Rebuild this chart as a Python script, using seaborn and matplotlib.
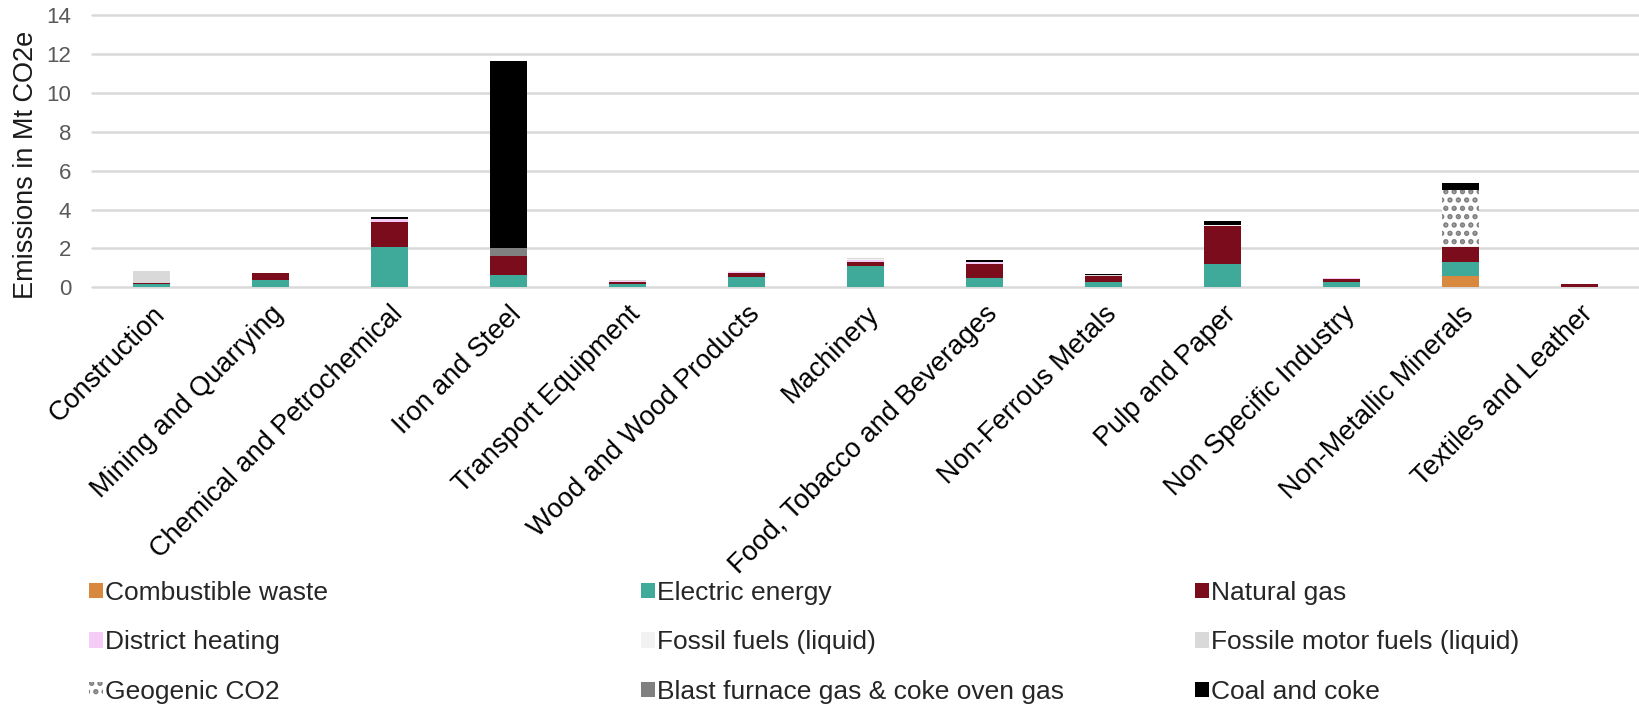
import numpy as np
import pandas as pd
import matplotlib
matplotlib.use("Agg")
import matplotlib.pyplot as plt
import seaborn as sns
from matplotlib.patches import Patch

categories = [
    "Construction", "Mining and Quarrying", "Chemical and Petrochemical",
    "Iron and Steel", "Transport Equipment", "Wood and Wood Products",
    "Machinery", "Food, Tobacco and Beverages", "Non-Ferrous Metals",
    "Pulp and Paper", "Non Specific Industry", "Non-Metallic Minerals",
    "Textiles and Leather",
]

combustible_waste = [0, 0, 0, 0, 0, 0, 0, 0, 0, 0, 0, 0.60, 0]
electric_energy = [0.17, 0.37, 2.09, 0.62, 0.15, 0.55, 1.10, 0.50, 0.29, 1.21, 0.29, 0.69, 0.03]
natural_gas = [0.05, 0.35, 1.29, 1.01, 0.14, 0.17, 0.19, 0.71, 0.27, 1.94, 0.14, 0.80, 0.14]
district_heating = [0, 0.02, 0.13, 0, 0.03, 0.08, 0.13, 0.07, 0.02, 0.02, 0.03, 0, 0]
fossil_fuels_liquid = [0.02, 0, 0.02, 0, 0.02, 0.03, 0.03, 0.02, 0.02, 0.05, 0.04, 0.02, 0.02]
fossile_motor_fuels = [0.58, 0.01, 0, 0, 0.01, 0.02, 0.06, 0.02, 0.01, 0.01, 0, 0, 0]
geogenic_co2 = [0, 0, 0, 0, 0, 0, 0, 0, 0, 0, 0, 2.91, 0]
blast_furnace_gas = [0, 0, 0, 0.37, 0, 0, 0, 0, 0, 0, 0, 0, 0]
coal_and_coke = [0, 0, 0.07, 9.65, 0, 0, 0, 0.07, 0.07, 0.20, 0, 0.33, 0]

series_names = [
    "Combustible waste", "Electric energy", "Natural gas",
    "District heating", "Fossil fuels (liquid)", "Fossile motor fuels (liquid)",
    "Geogenic CO2", "Blast furnace gas & coke oven gas", "Coal and coke",
]
series_colors = ["#D9883F", "#40AA9A", "#7B0C1C", "#F4CCF6", "#F2F2F2",
                 "#D9D9D9", "#FFFFFF", "#808080", "#000000"]
series_hatch = [None, None, None, None, None, None, "..", None, None]
hatch_color = "#7F7F7F"

y_ticks = [0, 2, 4, 6, 8, 10, 12, 14]

sns.set_theme(style="white")
plt.rcParams['font.family'] = ['Liberation Sans', 'DejaVu Sans']
plt.rcParams['hatch.linewidth'] = 2.6

fig = plt.figure(figsize=(16.4, 7.05), dpi=100)
ax = fig.add_axes([0.0561, 0.5925, 0.9435, 0.3858])

layers = np.array([combustible_waste, electric_energy, natural_gas, district_heating,
                   fossil_fuels_liquid, fossile_motor_fuels, geogenic_co2,
                   blast_furnace_gas, coal_and_coke])
cum = np.cumsum(layers, axis=0)

for i in reversed(range(len(layers))):
    df = pd.DataFrame({"sector": categories, "value": cum[i]})
    kw = dict(linewidth=0)
    if series_hatch[i]:
        kw["hatch"] = series_hatch[i]
        kw["edgecolor"] = hatch_color
    else:
        kw["edgecolor"] = series_colors[i]
    sns.barplot(data=df, x="sector", y="value", order=categories,
                color=series_colors[i], saturation=1, width=0.31,
                errorbar=None, ax=ax, **kw)

ax.set_xlim(-0.5, len(categories) - 0.5)
ax.set_ylim(0, 14)
ax.set_yticks(y_ticks)
ax.set_xlabel("")
ax.yaxis.grid(True, color="#D9D9D9", linewidth=1.8)
ax.xaxis.grid(False)
ax.set_axisbelow(True)
for gl in ax.yaxis.get_gridlines():
    gl.set_clip_on(False)
for s in ax.spines.values():
    s.set_visible(False)

ax.tick_params(axis="y", length=0, pad=15, labelsize=16, labelcolor="#595959")
ax.tick_params(axis="x", length=0, pad=10, labelsize=19.5, labelcolor="black")
for lab in ax.get_xticklabels():
    lab.set_rotation(45)
    lab.set_ha("right")
    lab.set_va("top")
    lab.set_rotation_mode("anchor")

ax.set_ylabel("Emissions in Mt CO2e", fontsize=19.5, color="#1A1A1A")
ax.yaxis.set_label_coords(0.024, 0.766, transform=fig.transFigure)

handles = []
for name, col, h in zip(series_names, series_colors, series_hatch):
    if h:
        handles.append(Patch(facecolor=col, edgecolor=hatch_color, hatch=h, linewidth=0, label=name))
    else:
        handles.append(Patch(facecolor=col, edgecolor=col, linewidth=0, label=name))

col_x = [89 / 1640, 641 / 1640, 1195 / 1640]
for c in range(3):
    hs = [handles[c], handles[c + 3], handles[c + 6]]
    fig.legend(handles=hs, loc="upper left", bbox_to_anchor=(col_x[c], 0.176),
               frameon=False, fontsize=19, handlelength=0.52, handleheight=0.52,
               handletextpad=0.1, labelspacing=0.96, borderpad=0, borderaxespad=0)

fig.savefig("out.png", dpi=100)
